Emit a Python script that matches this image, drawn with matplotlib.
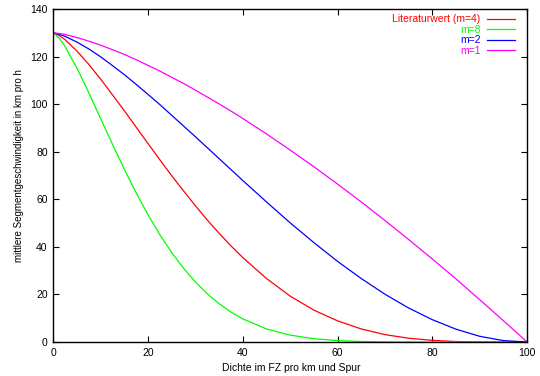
import matplotlib
matplotlib.use("Agg")
import matplotlib.pyplot as plt

# Werte (Dichte in FZ pro km und Spur, v in km/h)
dichte = [0, 1.25, 2.5, 5, 7.5, 10, 12.5, 15, 17.5, 20, 22.5, 25, 27.5, 30,
          32.5, 35, 37.5, 40, 45, 50, 55, 60, 65, 70, 75, 80, 85, 90, 95, 100]

v_m4 = [130, 128.9, 127.1, 122.3, 116.7, 110.5, 103.9, 97.2, 90.3, 83.4, 76.6,
        69.9, 63.5, 57.3, 51.3, 45.7, 40.4, 35.5, 26.7, 19.3, 13.4, 8.9, 5.5,
        3.1, 1.6, 0.7, 0.2, 0.05, 0, 0]
v_m8 = [130, 127.8, 124.2, 115.1, 104.8, 93.9, 83.1, 72.6, 62.7, 53.5, 45.1,
        37.6, 31.0, 25.2, 20.3, 16.1, 12.6, 9.7, 5.5, 2.9, 1.4, 0.6, 0.2,
        0.07, 0, 0, 0, 0, 0, 0]
v_m2 = [130, 129.4, 128.5, 126.1, 123.2, 119.9, 116.2, 112.4, 108.3, 104.1,
        99.8, 95.3, 90.8, 86.3, 81.7, 77.1, 72.5, 67.9, 58.9, 50.1, 41.8, 33.9,
        26.7, 20.1, 14.3, 9.4, 5.4, 2.4, 0.6, 0]
v_m1 = [130, 129.7, 129.3, 128.0, 126.5, 124.8, 122.9, 120.9, 118.7, 116.3,
        113.9, 111.3, 108.7, 105.9, 103.0, 100.1, 97.1, 94.0, 87.5, 80.7, 73.7,
        66.4, 58.9, 51.1, 43.1, 34.9, 26.5, 17.8, 9.0, 0]

labels = ["Literaturwert (m=4)", "m=8", "m=2", "m=1"]
colors = ["#ff0000", "#00ff00", "#0000ff", "#ff00ff"]

plt.rcParams['font.family'] = ['Liberation Sans', 'DejaVu Sans']

fig = plt.figure(figsize=(5.4, 3.76), dpi=100)
ax = fig.add_axes([0.0987, 0.0904, 0.8773, 0.8856])

for v, lab, col in zip([v_m4, v_m8, v_m2, v_m1], labels, colors):
    ax.plot(dichte, v, color=col, lw=0.9, label=lab)

ax.set_xlim(0, 100)
ax.set_ylim(0, 140)
ax.set_xticks(range(0, 101, 20))
ax.set_yticks(range(0, 141, 20))
ax.tick_params(direction='in', top=True, right=True, length=4, width=0.8,
               labelsize=7.5, pad=4)
for s in ax.spines.values():
    s.set_linewidth(1.0)

ax.set_xlabel("Dichte im FZ pro km und Spur", fontsize=7.5)
ax.set_ylabel("mittlere Segmentgeschwindigkeit in km pro h", fontsize=7)
ax.xaxis.set_label_coords(0.503, -0.062)
ax.yaxis.set_label_coords(-0.062, 0.53)

ax.legend(loc='upper right', bbox_to_anchor=(0.985, 1.0), frameon=False,
          markerfirst=False, labelcolor='linecolor', fontsize=7.5,
          handlelength=2.7, handletextpad=0.6, labelspacing=0.05,
          borderaxespad=0.3, borderpad=0.2)

fig.savefig("out.png", dpi=100)
